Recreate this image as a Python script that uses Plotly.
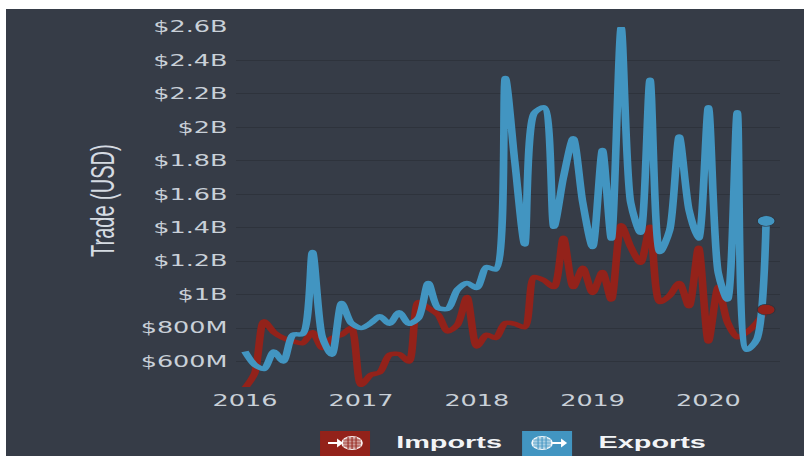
import plotly.graph_objects as go
import pandas as pd

months = pd.date_range("2016-01-01", periods=55, freq="MS")
exports = [0.66,0.58,0.555,0.66,0.60,0.76,0.765,1.255,0.745,0.64,0.95,0.83,0.80,0.83,0.87,0.825,0.895,0.825,0.86,1.07,
           0.92,0.915,1.03,1.07,1.04,1.165,1.15,2.295,1.79,1.30,2.085,2.12,1.405,1.70,1.935,1.55,1.285,1.865,1.335,2.595,
           1.55,1.37,2.285,1.255,1.385,1.945,1.505,1.335,2.12,1.13,0.97,2.09,0.67,0.73,1.44]
imports = [0.44,0.53,0.84,0.775,0.74,0.72,0.71,0.775,0.68,0.74,0.76,0.80,0.46,0.52,0.535,0.64,0.645,0.60,0.955,0.92,
           0.88,0.78,0.82,0.985,0.69,0.76,0.74,0.83,0.825,0.805,1.105,1.085,1.045,1.34,1.045,1.16,1.01,1.135,0.97,1.415,
           1.285,1.19,1.405,0.955,0.995,1.07,0.93,1.28,0.72,1.045,0.835,0.745,0.775,0.83,0.91]
y_ticks = [0.6,0.8,1.0,1.2,1.4,1.6,1.8,2.0,2.2,2.4,2.6]
y_labels = ["$600M","$800M","$1B","$1.2B","$1.4B","$1.6B","$1.8B","$2B","$2.2B","$2.4B","$2.6B"]
x_ticks = ["2016-01-01","2017-01-01","2018-01-01","2019-01-01","2020-01-01"]
x_labels = ["2016","2017","2018","2019","2020"]

W, H, SX = 804, 456, 1.7
BG, GRID, RED, BLUE, TXT = "#363c47", "#2e333c", "#93221a", "#4295c1", "#c9d0d8"
px = lambda v: v / W
py = lambda v: 1 - v / H

fig = go.Figure()
fig.add_trace(go.Scatter(x=months, y=imports, name="Imports", mode="lines",
                         line=dict(color=RED, width=4.5, shape="spline", smoothing=0.75), cliponaxis=False))
fig.add_trace(go.Scatter(x=months, y=exports, name="Exports", mode="lines",
                         line=dict(color=BLUE, width=4.5, shape="spline", smoothing=0.75), cliponaxis=False))
fig.add_trace(go.Scatter(x=months[-1:], y=exports[-1:], mode="markers", cliponaxis=False,
                         marker=dict(color=BLUE, size=10.5, line=dict(color=GRID, width=0.6))))
fig.add_trace(go.Scatter(x=months[-1:], y=imports[-1:], mode="markers", cliponaxis=False,
                         marker=dict(color=RED, size=10.5, line=dict(color=GRID, width=0.6))))

shapes = [dict(type="rect", xref="paper", yref="paper", layer="below", x0=px(6), x1=px(W), y0=0, y1=py(9),
               fillcolor=BG, line_width=0)]

def key(x0, color, flip):
    out = [dict(type="rect", xref="paper", yref="paper", x0=px(x0), x1=px(x0 + 50), y0=0, y1=py(431),
                fillcolor=color, line_width=0)]
    gx = x0 + (32 if not flip else 20)
    out.append(dict(type="circle", xref="paper", yref="paper", x0=px(gx - 10), x1=px(gx + 10), y0=py(449.5), y1=py(436.5),
                    fillcolor="rgba(255,255,255,0.55)", line=dict(color="rgba(255,255,255,0.9)", width=1)))
    for dx in (-4, 0, 4):
        out.append(dict(type="line", xref="paper", yref="paper", x0=px(gx + dx), x1=px(gx + dx), y0=py(449), y1=py(437),
                        line=dict(color=color, width=0.6)))
    for yy in (440, 443, 446):
        out.append(dict(type="line", xref="paper", yref="paper", x0=px(gx - 9), x1=px(gx + 9), y0=py(yy), y1=py(yy),
                        line=dict(color=color, width=0.6)))
    if flip:
        a0, a1 = x0 + 30, x0 + 45
    else:
        a0, a1 = x0 + 8, x0 + 23
    out.append(dict(type="line", xref="paper", yref="paper", x0=px(a0), x1=px(a1 - 5), y0=py(443), y1=py(443),
                    line=dict(color="white", width=2)))
    out.append(dict(type="path", xref="paper", yref="paper",
                    path=f"M {px(a1-6)} {py(438.5)} L {px(a1)} {py(443)} L {px(a1-6)} {py(447.5)} Z",
                    fillcolor="white", line_width=0))
    return out

shapes += key(320, RED, False) + key(522, BLUE, True)

fig.update_layout(
    width=W / SX, height=H, margin=dict(l=0, r=0, t=0, b=0), autosize=False,
    paper_bgcolor="white", plot_bgcolor="rgba(0,0,0,0)", showlegend=False,
    font=dict(family="DejaVu Sans", size=15, color=TXT),
    shapes=shapes,
    xaxis=dict(domain=[px(236), px(780)], type="date", range=["2015-12-04", "2020-08-14"],
               tickvals=x_ticks, ticktext=x_labels, showgrid=False, zeroline=False, showline=False,
               ticks="outside", ticklen=0, automargin=False, tickfont=dict(size=15, color=TXT)),
    yaxis=dict(domain=[py(387), py(27)], range=[0.4475, 2.6], tickvals=y_ticks, ticktext=y_labels,
               showgrid=True, gridcolor=GRID, gridwidth=1.3, zeroline=False, showline=False,
               ticks="outside", ticklen=1, tickcolor="rgba(0,0,0,0)", automargin=False,
               tickfont=dict(size=15, color=TXT)),
    annotations=[
        dict(text="Trade (USD)", xref="paper", yref="paper", x=px(102), y=py(201), xanchor="center", yanchor="middle",
             textangle=-90, showarrow=False, font=dict(family="Liberation Sans", size=20, color="#d5dbe2")),
        dict(text="Imports", xref="paper", yref="paper", x=px(393), y=py(442), xanchor="left", yanchor="middle",
             showarrow=False, font=dict(family="Liberation Sans", size=17, color="#f2f4f6", weight="bold")),
        dict(text="Exports", xref="paper", yref="paper", x=px(595), y=py(442), xanchor="left", yanchor="middle",
             showarrow=False, font=dict(family="Liberation Sans", size=17, color="#f2f4f6", weight="bold")),
    ],
)

post = ("document.body.style.margin='0';document.documentElement.style.overflow='hidden';"
        f"var d=document.getElementById('{{plot_id}}');d.style.transformOrigin='0 0';d.style.transform='scale({SX},1)';")
fig.write_html("out.html", post_script=post, config=dict(displayModeBar=False))
